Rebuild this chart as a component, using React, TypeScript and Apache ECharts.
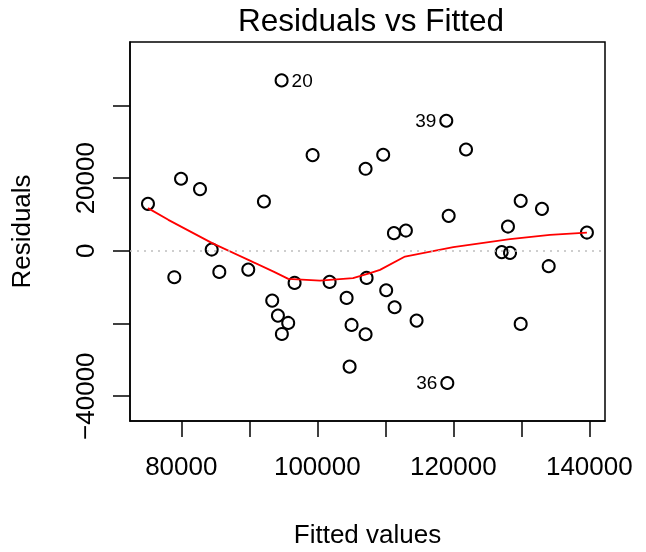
import React, { useEffect, useRef } from "react";
import * as echarts from "echarts";

const fittedValues = [
  75100, 78970, 79960, 82750, 84470, 85590, 89850, 92150, 93370, 94210,
  94750, 94790, 95720, 96660, 99310, 101810, 104310, 104750, 105040, 107100,
  107250, 107100, 109690, 110130, 111270, 111370, 113030, 114600, 118970, 119120,
  119320, 121870, 127120, 128040, 128340, 129910, 129910, 133040, 134030, 139650,
];
const residualValues = [
  12950, -7250, 19840, 17000, 360, -5790, -5150, 13580, -13690, -17820,
  46920, -22870, -19840, -8820, 26360, -8540, -12950, -31870, -20390, 22590,
  -7440, -22950, 26450, -10830, 4880, -15510, 5590, -19200, 35810, -36360,
  9640, 27910, -360, 6690, -550, 13770, -20110, 11570, -4220, 5040,
];
// index in the arrays above -> observation label
const observationLabels: Record<number, string> = { 10: "20", 28: "39", 29: "36" };
const labelSides: Record<number, string> = { 10: "right", 28: "left", 29: "left" };

const smoothX = [75100, 78090, 84470, 90100, 93570, 95740, 100400, 105250, 107750, 109220, 112900, 120000, 128340, 134220, 139650];
const smoothY = [11760, 8540, 2200, -2700, -5700, -7710, -8180, -7520, -6140, -5230, -1570, 1020, 3220, 4410, 5040];

const xTicks = [80000, 90000, 100000, 110000, 120000, 130000, 140000];
const xTickLabels = [80000, 100000, 120000, 140000];
const yTicks = [-40000, -20000, 0, 20000, 40000];
const yTickLabels = [-40000, 0, 20000];

const FONT = "Liberation Sans, Arial, Helvetica, sans-serif";

export default function App() {
  const ref = useRef<HTMLDivElement>(null);
  useEffect(() => {
    if (!ref.current) return;
    const chart = echarts.init(ref.current, undefined, { renderer: "svg" });
    const points = fittedValues.map((x, i) => {
      const item: any = { value: [x, residualValues[i]] };
      if (observationLabels[i]) {
        item.label = {
          show: true,
          formatter: observationLabels[i],
          position: labelSides[i],
          distance: 3,
          fontSize: 19,
          color: "#000",
          fontFamily: FONT,
        };
      }
      return item;
    });
    const fmt = (v: number) => String(v).replace("-", "\u2212");
    chart.setOption({
      animation: false,
      title: {
        text: "Residuals vs Fitted",
        left: 366,
        top: -1,
        textAlign: "center",
        textStyle: { fontSize: 31.5, fontWeight: "normal", color: "#000", fontFamily: FONT },
      },
      grid: {
        left: 130,
        right: 41,
        top: 42,
        bottom: 131,
        show: true,
        borderColor: "#000",
        borderWidth: 1.5,
        backgroundColor: "transparent",
      },
      xAxis: {
        type: "value",
        min: 72456,
        max: 142309,
        name: "Fitted values",
        nameLocation: "middle",
        nameGap: 100,
        nameTextStyle: { fontSize: 26, color: "#000", fontFamily: FONT },
        axisLine: { show: true, onZero: false, lineStyle: { color: "#000", width: 1.5 } },
        axisTick: { show: true, inside: false, length: 16, lineStyle: { color: "#000", width: 1.5 }, customValues: xTicks },
        axisLabel: { customValues: xTickLabels, fontSize: 26, color: "#000", fontFamily: FONT, margin: 32, formatter: fmt },
        splitLine: { show: false },
      },
      yAxis: {
        type: "value",
        min: -46832,
        max: 57493,
        name: "Residuals",
        nameLocation: "middle",
        nameGap: 96,
        nameRotate: 90,
        nameTextStyle: { fontSize: 26, color: "#000", fontFamily: FONT },
        axisLine: { show: true, onZero: false, lineStyle: { color: "#000", width: 1.5 } },
        axisTick: { show: true, inside: false, length: 17, lineStyle: { color: "#000", width: 1.5 }, customValues: yTicks },
        axisLabel: { customValues: yTickLabels, rotate: 90, fontSize: 26, color: "#000", fontFamily: FONT, margin: 32, formatter: fmt },
        splitLine: { show: false },
      },
      series: [
        {
          type: "scatter",
          data: points,
          symbol: "circle",
          symbolSize: 12,
          itemStyle: { color: "rgba(0,0,0,0)", borderColor: "#000", borderWidth: 2, opacity: 1 },
          markLine: {
            silent: true,
            symbol: "none",
            label: { show: false },
            lineStyle: { color: "#bebebe", type: [2, 5], width: 1.5 },
            data: [{ yAxis: 0 }],
          },
          z: 3,
        },
        {
          type: "line",
          data: smoothX.map((x, i) => [x, smoothY[i]]),
          showSymbol: false,
          symbol: "none",
          lineStyle: { color: "#ff0000", width: 1.8 },
          z: 4,
        },
      ],
    });
    return () => chart.dispose();
  }, []);
  return <div ref={ref} style={{ position: "fixed", left: 0, top: 0, width: 646, height: 552 }} />;
}
